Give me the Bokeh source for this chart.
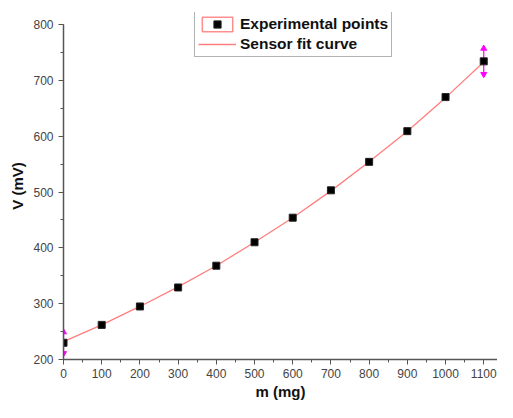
from bokeh.plotting import figure
from bokeh.models import Range1d, SingleIntervalTicker, Legend, LegendItem
from bokeh.embed import file_html
from bokeh.resources import INLINE

# Data
m_mg = [0, 100, 200, 300, 400, 500, 600, 700, 800, 900, 1000, 1100]
v_mv = [230, 262, 295, 329, 368, 410, 454, 503, 554, 609, 670, 734]
fit_m = [0, 100, 200, 300, 400, 500, 600, 700, 800, 900, 1000, 1100]
fit_v = [232, 262, 295, 330, 368, 410, 454, 502, 554, 609, 669, 733]
err_m = [0, 1100]
err_v = [230, 734]
err_size = [22, 26]

FONT = "Liberation Sans"

W, H = 497, 402
TOP, BOTTOM, LEFT, RIGHT = 12, 43, 63, 0

p = figure(width=W, height=H, output_backend="svg", toolbar_location=None,
           x_range=Range1d(0, 1136), y_range=Range1d(200, 821.5),
           min_border_left=LEFT, min_border_right=RIGHT, min_border_top=TOP,
           min_border_bottom=BOTTOM)
p.outline_line_color = None
p.grid.visible = False

fit = p.line(fit_m, fit_v, line_color="#ff7f7f", line_width=1.3)

lo = [v - e for v, e in zip(err_v, err_size)]
hi = [v + e for v, e in zip(err_v, err_size)]
p.segment(x0=err_m, y0=lo, x1=err_m, y1=hi, line_color="#ff00ff", line_width=1.2)
p.scatter(err_m, [h - 3 for h in hi], marker="triangle", size=6,
          fill_color="#ff00ff", line_color="#ff00ff")
p.scatter(err_m, [l + 3 for l in lo], marker="inverted_triangle", size=6,
          fill_color="#ff00ff", line_color="#ff00ff")

pts = p.scatter(m_mg, v_mv, marker="square", size=7, fill_color="black",
                line_color="#222222", line_width=1)

box = p.rect(x=[-1000], y=[-1000], width=1, height=1, fill_color="white",
             line_color="#ff8f8f", line_width=1.5)

for ax in (p.xaxis[0], p.yaxis[0]):
    ax.axis_line_color = "#555555"
    ax.axis_line_width = 1.5
    ax.major_tick_line_color = "#555555"
    ax.minor_tick_line_color = "#555555"
    ax.major_tick_out = 5
    ax.major_tick_in = 0
    ax.minor_tick_out = 3
    ax.minor_tick_in = 0
    ax.major_label_text_font = FONT
    ax.major_label_text_font_size = "12px"
    ax.major_label_text_color = "#444444"
    ax.axis_label_text_font = FONT
    ax.axis_label_text_font_size = "15px"
    ax.axis_label_text_font_style = "bold"
    ax.axis_label_text_color = "#111111"

p.xaxis.ticker = SingleIntervalTicker(interval=100, num_minor_ticks=2)
p.yaxis.ticker = SingleIntervalTicker(interval=100, num_minor_ticks=2)
p.yaxis.bounds = (200, 800)
p.xaxis.axis_label = "m (mg)"
p.yaxis.axis_label = "V (mV)"
p.xaxis.major_label_standoff = 4
p.yaxis.major_label_standoff = 5
p.xaxis.axis_label_standoff = 2
p.yaxis.axis_label_standoff = 4

legend = Legend(items=[LegendItem(label="Experimental points", renderers=[box, pts]),
                       LegendItem(label="Sensor fit curve", renderers=[fit])])
legend.label_text_font = FONT
legend.label_text_font_size = "15.5px"
legend.label_text_font_style = "bold"
legend.label_text_color = "#111111"
legend.glyph_width = 38
legend.glyph_height = 18
legend.label_height = 18
legend.spacing = 2
legend.padding = 3
legend.margin = 0
legend.label_standoff = 4
legend.border_line_color = "#666666"
legend.border_line_width = 1.5
legend.background_fill_alpha = 1
frame_h = H - TOP - BOTTOM
legend_h = 3 + 18 + 2 + 18 + 3
legend.location = (131, frame_h - legend_h - 1)
p.add_layout(legend, "center")

html = file_html(p, INLINE)
open("out.html", "w").write(html)
